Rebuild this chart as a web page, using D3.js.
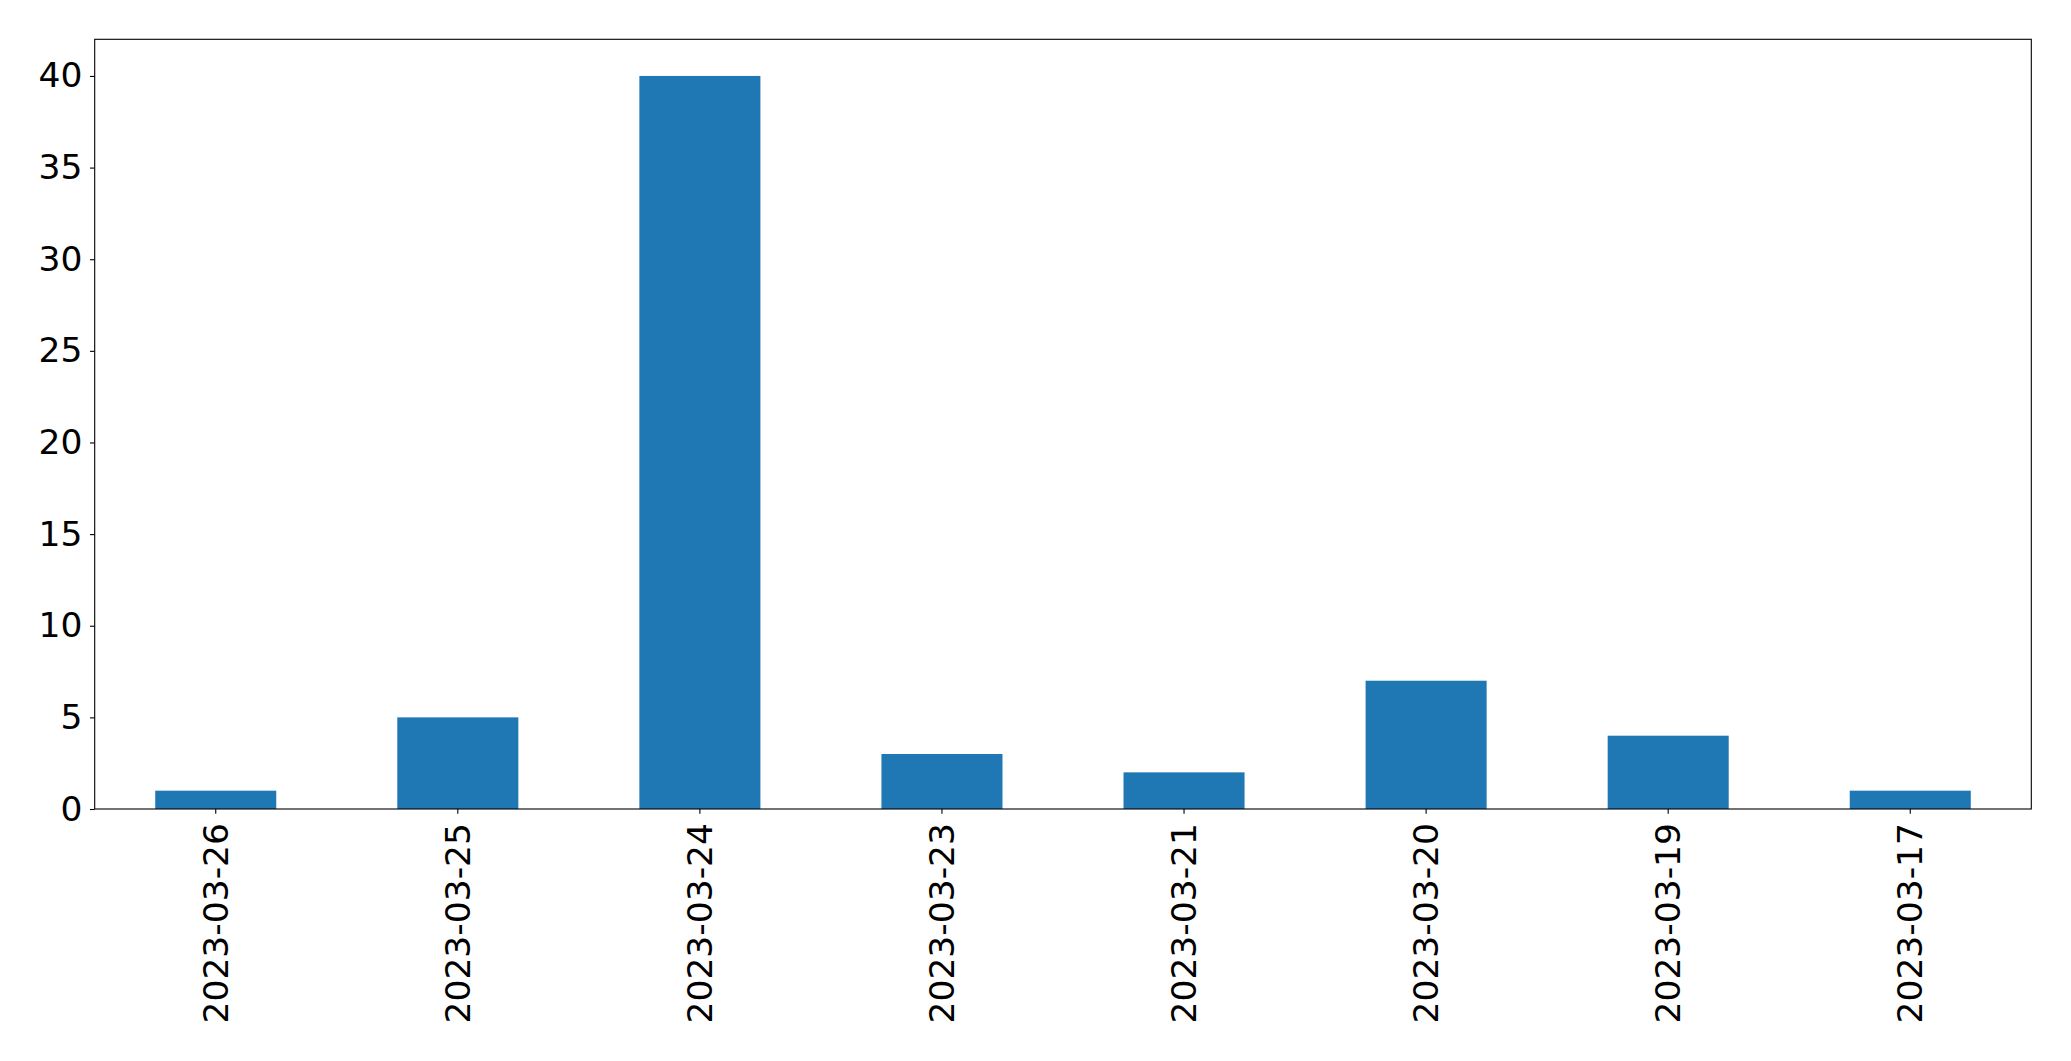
<!DOCTYPE html>
<html><head><meta charset="utf-8">
<script src="https://cdn.jsdelivr.net/npm/d3@7"></script>
<style>body{margin:0;background:#fff}svg{display:block}</style>
</head><body>
<svg id="c" width="2071" height="1061"></svg>
<script>
const categories = ["2023-03-26","2023-03-25","2023-03-24","2023-03-23","2023-03-21","2023-03-20","2023-03-19","2023-03-17"];
const values = [1,5,40,3,2,7,4,1];
const yTicks = [0,5,10,15,20,25,30,35,40];

const svg = d3.select("#c");
const L = 94.7, R = 2031.3, T = 39.3, B = 809;
const x = d3.scaleBand().domain(categories).range([L, R]).paddingInner(0.5).paddingOuter(0.25);
const y = d3.scaleLinear().domain([0, 42]).range([B, T]);
const font = "'DejaVu Sans', sans-serif";

svg.append("g").selectAll("rect").data(values).join("rect")
  .attr("x", (d,i) => x(categories[i]))
  .attr("width", x.bandwidth())
  .attr("y", d => y(d))
  .attr("height", d => y(0) - y(d))
  .attr("fill", "#1f77b4");

const ya = svg.append("g").attr("transform", `translate(${L},0)`)
  .call(d3.axisLeft(y).tickValues(yTicks).tickSize(4.7).tickPadding(7.5));
ya.select(".domain").remove();
ya.selectAll("line").attr("stroke", "#000").attr("stroke-width", 1.1);
ya.selectAll("text").attr("font-family", font).attr("font-size", "34.5px").attr("fill", "#000");

const xa = svg.append("g").attr("transform", `translate(0,${B})`)
  .call(d3.axisBottom(x).tickSize(4.7).tickPadding(0));
xa.select(".domain").remove();
xa.selectAll("line").attr("stroke", "#000").attr("stroke-width", 1.1);
xa.selectAll("text")
  .attr("font-family", font).attr("font-size", "34.5px").attr("fill", "#000")
  .attr("text-anchor", "end")
  .attr("dy", null)
  .attr("y", null)
  .attr("transform", "translate(0,14) rotate(-90)")
  .attr("dominant-baseline", "central");

svg.append("rect").attr("x", L).attr("y", T).attr("width", R - L).attr("height", B - T)
  .attr("fill", "none").attr("stroke", "#000").attr("stroke-width", 1.1);
</script>
</body></html>
